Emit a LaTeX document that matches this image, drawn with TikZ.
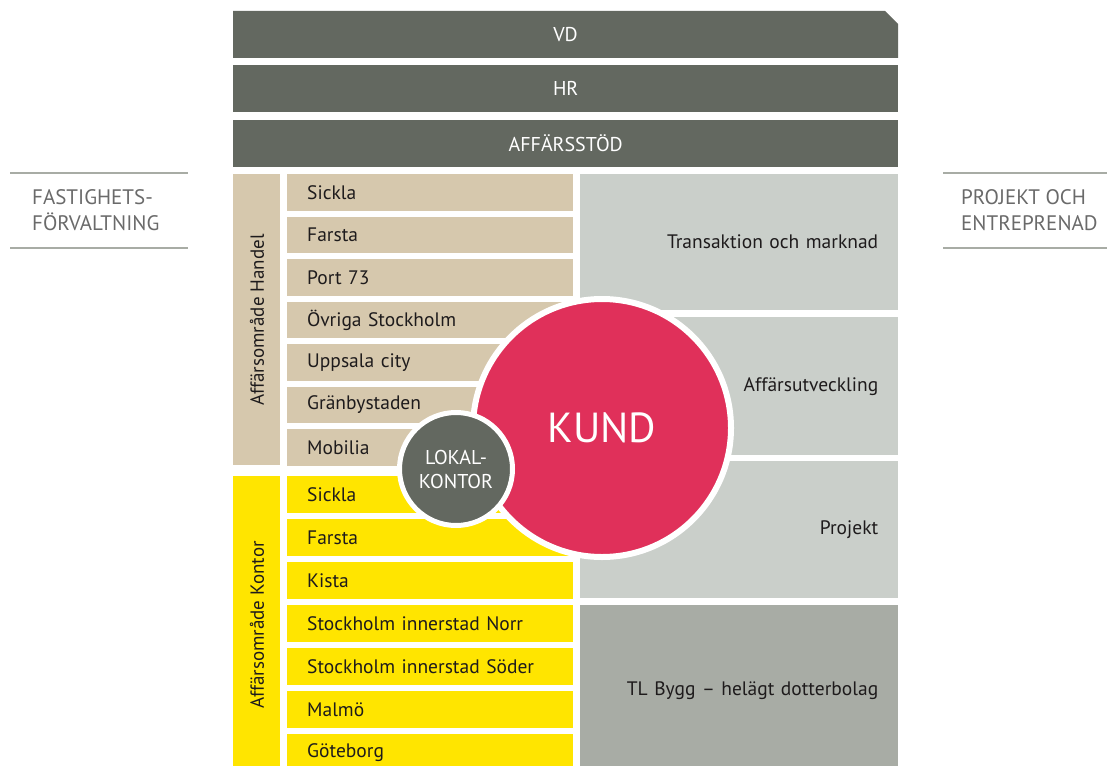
\documentclass[tikz,border=0pt]{standalone}
\usepackage{fontspec}
\setmainfont{PT Sans}
\usetikzlibrary{positioning}
\definecolor{mossgrey}{HTML}{636860}
\definecolor{handeltan}{HTML}{D6C8AD}
\definecolor{kontoryellow}{HTML}{FFE500}
\definecolor{paleslate}{HTML}{CACFCA}
\definecolor{darkslate}{HTML}{A8ACA5}
\definecolor{kundred}{HTML}{E0305A}
\definecolor{inktext}{HTML}{1E1B1C}
\definecolor{sidegrey}{HTML}{6A6A6A}
\tikzset{
  topbar/.style={fill=mossgrey,text=white,anchor=north west,inner sep=0pt,minimum width=665pt,minimum height=47pt,font=\fontsize{20}{22}\selectfont},
  rowbox/.style={anchor=north west,inner xsep=20pt,inner ysep=0pt,text width=246pt,minimum height=36.5pt,align=left,text=inktext,font=\fontsize{19.5}{21}\selectfont},
  sidebar/.style={anchor=north west,inner sep=0pt,minimum width=47pt,text=inktext},
  rightbox/.style={anchor=north west,inner xsep=20pt,inner ysep=0pt,text width=278pt,align=right,text=inktext,font=\fontsize{19.5}{21}\selectfont},
  sidelabel/.style={anchor=west,align=left,text=sidegrey,inner sep=0pt,font=\fontsize{21}{26}\selectfont},
  sideline/.style={draw=darkslate,line width=1.3pt},
}
\begin{document}
\begin{tikzpicture}[x=1pt,y=-1pt]
\useasboundingbox (0,0) rectangle (1107,765);
% top management bars
\fill[mossgrey] (233,11)--(885,11)--(898,24)--(898,58)--(233,58)--cycle;
\node[text=white,font=\fontsize{20}{22}\selectfont] (vd) at (565.5,35) {VD};
\node[topbar] (hr) at (233,65) {HR};
\node[topbar] (stod) at (233,119.5) {AFFÄRSSTÖD};
% side headings
\draw[sideline] (10,173)--(188,173);
\draw[sideline] (10,248)--(188,248);
\node[sidelabel] (fast) at (32,210) {FASTIGHETS-\\FÖRVALTNING};
\draw[sideline] (943,173)--(1107,173);
\draw[sideline] (943,248)--(1107,248);
\node[sidelabel] (proj) at (961,210) {PROJEKT OCH\\ENTREPRENAD};
% affarsomrade handel
\node[sidebar,fill=handeltan,minimum height=291pt] (handel) at (233,174) {};
\node[rotate=90,text=inktext,font=\fontsize{19}{21}\selectfont] at (257,320) {Affärsområde Handel};
\foreach \name [count=\i] in {Sickla,Farsta,Port 73,Övriga Stockholm,Uppsala city,Gränbystaden,Mobilia}
  \node[rowbox,fill=handeltan] (h\i) at (287,{174+(\i-1)*42.5}) {\name};
% affarsomrade kontor
\node[sidebar,fill=kontoryellow,minimum height=300pt] (kontor) at (233,476) {};
\node[rotate=90,text=inktext,font=\fontsize{19}{21}\selectfont] at (257,625) {Affärsområde Kontor};
\foreach \name [count=\i] in {Sickla,Farsta,Kista,Stockholm innerstad Norr,Stockholm innerstad Söder,Malmö,Göteborg}
  \node[rowbox,fill=kontoryellow] (k\i) at (287,{476+(\i-1)*43}) {\name};
% projekt och entreprenad
\node[rightbox,fill=paleslate,minimum height=136pt] (trans) at (580,174) {Transaktion och marknad};
\node[rightbox,fill=paleslate,minimum height=138pt] (utv) at (580,317) {Affärsutveckling};
\node[rightbox,fill=paleslate,minimum height=137pt] (projekt) at (580,461) {Projekt};
\node[rightbox,fill=darkslate,minimum height=170pt] (bygg) at (580,605) {TL Bygg -- helägt dotterbolag};
% circles
\node[circle,fill=kundred,draw=white,line width=6pt,minimum size=258pt,inner sep=0pt,text=white,font=\fontsize{42}{46}\selectfont] (kund) at (602,428) {KUND};
\node[circle,fill=mossgrey,draw=white,line width=5pt,minimum size=113pt,inner sep=0pt,align=center,text=white,font=\fontsize{20}{24}\selectfont] (lokal) at (456,469) {LOKAL-\\KONTOR};
\end{tikzpicture}
\end{document}
